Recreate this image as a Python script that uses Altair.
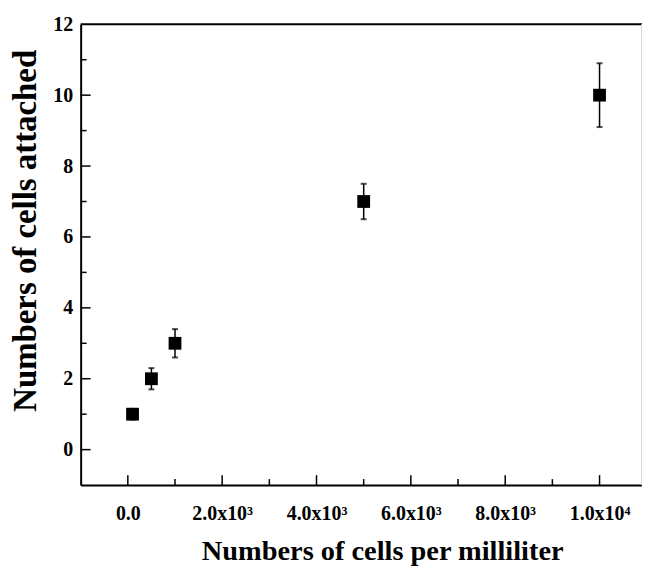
import altair as alt
import pandas as pd

# data
x_vals = [100, 500, 1000, 5000, 10000]
y_vals = [1.0, 2.0, 3.0, 7.0, 10.0]
y_err = [0.15, 0.3, 0.4, 0.5, 0.9]

x_major = [0, 2000, 4000, 6000, 8000, 10000]
x_labels = ["0.0", "2.0x10³", "4.0x10³", "6.0x10³", "8.0x10³", "1.0x10⁴"]
x_minor = [1000, 3000, 5000, 7000, 9000]
y_major = [0, 2, 4, 6, 8, 10]
y_minor = [1, 3, 5, 7, 9, 11]

W, H = 564, 463
FONT = "Liberation Serif"

df = pd.DataFrame({"x": x_vals, "y": y_vals, "err": y_err})
df["lo"] = df["y"] - df["err"]
df["hi"] = df["y"] + df["err"]
caps = pd.DataFrame({"x": x_vals * 2, "c": list(df["lo"]) + list(df["hi"])})

label_expr = "''"
for v, l in reversed(list(zip(x_major, x_labels))):
    label_expr = f"datum.value == {v} ? '{l}' : ({label_expr})"

xs = alt.Scale(domain=[-1000, 10900], nice=False, zero=False)
ys = alt.Scale(domain=[-1, 12], nice=False, zero=False)

x_axis = alt.Axis(values=x_major, labelExpr=label_expr, ticks=False, grid=False,
                  domainColor="black", domainWidth=2, labelFont=FONT, labelFontSize=20,
                  labelFontWeight="bold", labelColor="black", labelPadding=19,
                  labelFlush=False, labelOverlap=False,
                  title="Numbers of cells per milliliter", titleFont=FONT, titleFontSize=28.5,
                  titleFontWeight="bold", titleColor="black", titleX=303, titleY=75,
                  titleBaseline="alphabetic", titleAlign="center")
y_axis = alt.Axis(values=y_major + [12], ticks=False, grid=False, domainColor="black",
                  domainWidth=2, labelFont=FONT, labelFontSize=20, labelFontWeight="bold",
                  labelColor="black", labelPadding=8, labelOverlap=False, labelFlush=False,
                  title="Numbers of cells attached", titleFont=FONT, titleFontSize=33,
                  titleFontWeight="bold", titleColor="black", titleX=-45, titleY=207,
                  titleBaseline="alphabetic", titleAlign="center", titleAngle=270)

base = alt.Chart(df)
bars = base.mark_rule(color="black", strokeWidth=1.5).encode(
    x=alt.X("x:Q", scale=xs, axis=x_axis), y=alt.Y("lo:Q", scale=ys, axis=y_axis), y2="hi:Q")
capm = alt.Chart(caps).mark_tick(color="black", orient="horizontal", size=6, thickness=2).encode(
    x=alt.X("x:Q", scale=xs), y=alt.Y("c:Q", scale=ys))
pts = base.mark_square(size=165, color="black", opacity=1).encode(
    x=alt.X("x:Q", scale=xs), y=alt.Y("y:Q", scale=ys))

xmaj = alt.Chart(pd.DataFrame({"v": x_major})).mark_rule(color="black", strokeWidth=1.5).encode(
    x=alt.X("v:Q", scale=xs), y=alt.value(H), y2=alt.value(H - 10))
xmin = alt.Chart(pd.DataFrame({"v": x_minor})).mark_rule(color="black", strokeWidth=1.5).encode(
    x=alt.X("v:Q", scale=xs), y=alt.value(H), y2=alt.value(H - 6))
ymaj = alt.Chart(pd.DataFrame({"v": y_major})).mark_rule(color="black", strokeWidth=1.5).encode(
    y=alt.Y("v:Q", scale=ys), x=alt.value(0), x2=alt.value(10))
ymin = alt.Chart(pd.DataFrame({"v": y_minor})).mark_rule(color="black", strokeWidth=1.5).encode(
    y=alt.Y("v:Q", scale=ys), x=alt.value(0), x2=alt.value(6))
top = alt.Chart(pd.DataFrame({"a": [0]})).mark_rule(color="black", strokeWidth=2).encode(
    x=alt.value(0), x2=alt.value(W), y=alt.value(0))
right = alt.Chart(pd.DataFrame({"a": [0]})).mark_rule(color="#d8d8d8", strokeWidth=1).encode(
    x=alt.value(W - 0.5), y=alt.value(0), y2=alt.value(H))

chart = alt.layer(bars, capm, pts, xmaj, xmin, ymaj, ymin, top, right).properties(
    width=W, height=H,
    autosize=alt.AutoSizeParams(type="none"),
    padding={"left": 73, "top": 15, "right": 0, "bottom": 88},
).configure_view(stroke=None)

chart.save("out.html", embed_options={"renderer": "svg", "actions": False})
